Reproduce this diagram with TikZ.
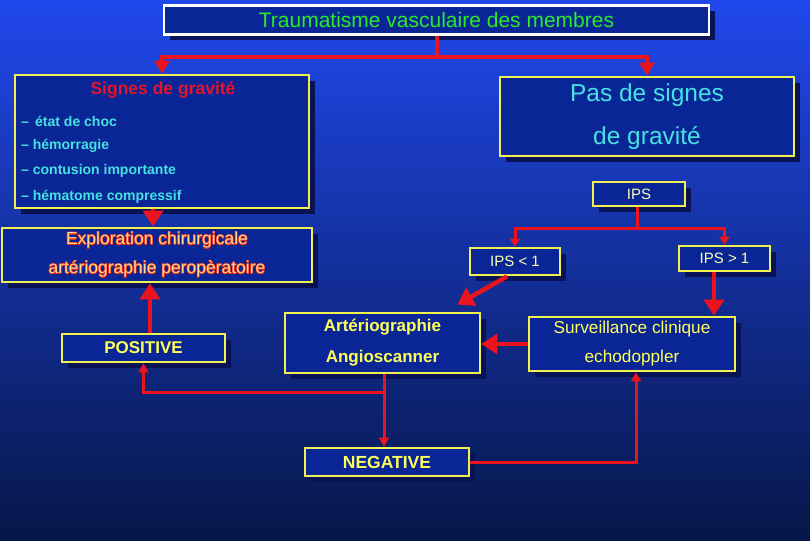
\documentclass[tikz,border=0pt]{standalone}
\usepackage{fontspec}
\setmainfont{Liberation Sans}
\usepackage{contour}
\contourlength{0.45pt}
\usetikzlibrary{arrows.meta,shadows,calc}
\definecolor{bgtop}{RGB}{32,72,236}
\definecolor{bgmid}{RGB}{20,50,180}
\definecolor{bgbot}{RGB}{6,22,72}
\definecolor{boxfill}{RGB}{10,38,150}
\definecolor{shcol}{RGB}{8,18,85}
\definecolor{boxyel}{RGB}{240,240,80}
\definecolor{arrred}{RGB}{235,20,30}
\definecolor{txgreen}{RGB}{40,235,40}
\definecolor{txcyan}{RGB}{70,225,225}
\definecolor{txred}{RGB}{230,20,40}
\definecolor{txyel}{RGB}{255,255,90}
\definecolor{txlyel}{RGB}{255,255,180}
\definecolor{txorange}{RGB}{255,215,140}
\definecolor{txoutl}{RGB}{225,40,30}
\begin{document}
\begin{tikzpicture}[x=1pt,y=-1pt,
  box/.style={draw=boxyel, line width=2.8pt, fill=boxfill, inner sep=0pt, anchor=center,
    drop shadow={shadow xshift=6pt, shadow yshift=-6pt, fill=shcol, opacity=1}},
  lbl/.style={inner sep=0pt, anchor=center},
  thickarr/.style={draw=arrred, line width=4.5pt, -{Triangle[length=16pt,width=20pt]}, fill=arrred},
  brarr/.style={draw=arrred, line width=4pt, -{Triangle[length=13pt,width=15pt]}},
  ipsarr/.style={draw=arrred, line width=3pt, -{Triangle[length=8pt,width=10pt]}},
  thinarr/.style={draw=arrred, line width=3pt, -{Triangle[length=9pt,width=10pt]}},
  thinline/.style={draw=arrred, line width=3pt}]
\shade[top color=bgtop, middle color=bgmid, bottom color=bgbot] (0,0) rectangle (810,540);
\useasboundingbox (0,0) rectangle (810,540);

% title
\node[box, draw=white, minimum width=545pt, minimum height=29pt, text=txgreen,
  font=\fontsize{21}{24}\selectfont] (title) at (436.5,20) {Traumatisme vasculaire des membres};

% signes de gravite
\node[box, minimum width=294pt, minimum height=133pt] (signes) at (162,141.5) {};
\node[lbl, text=txred, font=\bfseries\fontsize{17.5}{20}\selectfont] (sgt) at (163,90) {Signes de gravité};
\node[lbl, anchor=west, text=txcyan, font=\bfseries\fontsize{14}{16}\selectfont] (s1) at (21,121) {–\, état de choc};
\node[lbl, anchor=west, text=txcyan, font=\bfseries\fontsize{14}{16}\selectfont] (s2) at (21,146) {– hémorragie};
\node[lbl, anchor=west, text=txcyan, font=\bfseries\fontsize{14}{16}\selectfont] (s3) at (21,171) {– contusion importante};
\node[lbl, anchor=west, text=txcyan, font=\bfseries\fontsize{14}{16}\selectfont] (s4) at (21,197) {– hématome compressif};

% pas de signes
\node[box, minimum width=294pt, minimum height=79pt, text=txcyan, align=center,
  font=\fontsize{24.5}{43}\selectfont] (pas) at (647,116.5) {Pas de signes\\de gravité};

% IPS
\node[box, minimum width=92pt, minimum height=24pt, text=txlyel,
  font=\fontsize{15}{18}\selectfont] (ips) at (639,194) {IPS};
\node[box, minimum width=90pt, minimum height=27pt, text=txlyel,
  font=\fontsize{15}{18}\selectfont] (ipsl) at (515,261.5) {IPS < 1};
\node[box, minimum width=91pt, minimum height=25pt, text=txlyel,
  font=\fontsize{15}{18}\selectfont] (ipsg) at (724.5,258.5) {IPS > 1};

% exploration
\node[box, minimum width=310pt, minimum height=54pt, text=txorange, align=center,
  font=\fontsize{17.5}{29}\selectfont] (explo) at (157,255)
  {\contour{txoutl}{Exploration chirurgicale}\\\contour{txoutl}{artériographie peropèratoire}};

% arteriographie
\node[box, minimum width=195pt, minimum height=60pt, text=txyel, align=center,
  font=\bfseries\fontsize{17}{31}\selectfont] (artr) at (382.5,343) {Artériographie\\Angioscanner};

% surveillance
\node[box, minimum width=206pt, minimum height=54pt, text=txyel, align=center,
  font=\fontsize{17.2}{29}\selectfont] (surv) at (632,344) {Surveillance clinique\\echodoppler};

% positive / negative
\node[box, minimum width=163pt, minimum height=28pt, text=txyel,
  font=\bfseries\fontsize{17}{20}\selectfont] (pos) at (143.5,348) {POSITIVE};
\node[box, minimum width=164pt, minimum height=28pt, text=txyel,
  font=\bfseries\fontsize{17.5}{20}\selectfont] (neg) at (387,462) {NEGATIVE};

% connectors
\draw[brarr] (title.south) -- ++(0,21) -| (signes.north);
\draw[brarr] (title.south) -- ++(0,21) -| (pas.north);

\draw[ipsarr] ([xshift=-2pt]ips.south) -- ++(0,21) -| (ipsl.north);
\draw[ipsarr] ([xshift=-2pt]ips.south) -- ++(0,21) -| (ipsg.north);

\draw[thickarr] ([xshift=-9pt]signes.south) -- ([xshift=-9pt]signes.south |- explo.north);
\draw[thickarr] ([xshift=6.5pt]pos.north) -- ([xshift=6.5pt]pos.north |- explo.south);
\draw[thickarr] ([xshift=-8pt]ipsl.south) -- ($(artr.north east)+(-24,-7)$);
\draw[thickarr] ([xshift=-10.5pt]ipsg.south) -- ([xshift=-10.5pt]ipsg.south |- surv.north);
\draw[thickarr] (surv.west) -- (surv.west -| artr.east);

\draw[thinarr] ([xshift=1.5pt]artr.south) -- ([xshift=1.5pt]artr.south |- neg.north);
\draw[thinarr] ([xshift=1.5pt]artr.south) -- ++(0,18) -| (pos.south);
\draw[thinarr] (neg.east) -| ([xshift=4pt]surv.south);
\end{tikzpicture}
\end{document}
